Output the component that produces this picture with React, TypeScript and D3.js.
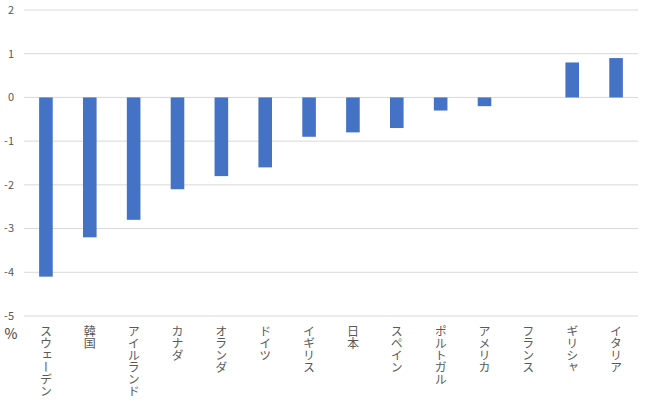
import React from "react";
import * as d3 from "d3";

const categories = ["スウェーデン", "韓国", "アイルランド", "カナダ", "オランダ", "ドイツ", "イギリス", "日本", "スペイン", "ポルトガル", "アメリカ", "フランス", "ギリシャ", "イタリア"];
const values = [-4.1, -3.2, -2.8, -2.1, -1.8, -1.6, -0.9, -0.8, -0.7, -0.3, -0.2, 0, 0.8, 0.9];
const yTicks = [2, 1, 0, -1, -2, -3, -4, -5];

const W = 646;
const H = 401;

export default function App() {
  const x = d3.scaleBand<string>().domain(categories).range([24, 638]).paddingInner(0.69).paddingOuter(0.345);
  const y = d3.scaleLinear().domain([-5, 2]).range([316, 10]);
  const font = "'Noto Sans CJK JP', 'Noto Sans', sans-serif";
  return (
    <svg width={W} height={H} style={{ position: "absolute", left: 0, top: 0, background: "#fff" }} fontFamily={font}>
      {yTicks.map((t) => (
        <g key={t}>
          <line x1={24} x2={638} y1={y(t)} y2={y(t)} stroke="#d9d9d9" strokeWidth={1} />
          <text x={14} y={y(t)} dy="0.35em" textAnchor="end" fontSize={11} fill="#595959">{t}</text>
        </g>
      ))}
      {values.map((v, i) => (
        <rect key={categories[i]} x={x(categories[i])} width={x.bandwidth()} y={y(Math.max(0, v))} height={Math.abs(y(v) - y(0))} fill="#4472c4" />
      ))}
      {categories.map((c) => (
        <text key={c} x={(x(c) ?? 0) + x.bandwidth() / 2} y={325} fontSize={12} fill="#595959" style={{ writingMode: "vertical-rl", textOrientation: "upright" } as any}>{c}</text>
      ))}
      <text x={11} y={334} dy="0.35em" textAnchor="middle" fontSize={14} fill="#404040">%</text>
    </svg>
  );
}
